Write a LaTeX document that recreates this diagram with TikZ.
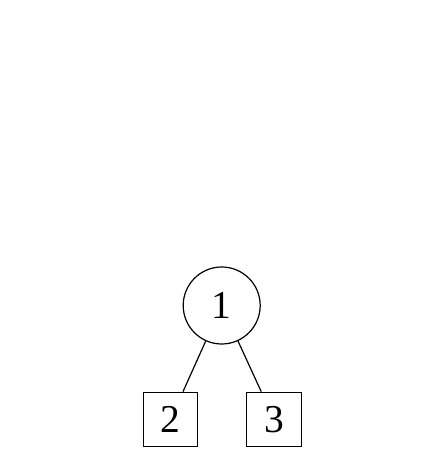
\documentclass[tikz,border=0pt]{standalone}
\usepackage{fontspec}
\setmainfont{Liberation Serif}
\tikzset{
  vertex/.style={draw,circle,minimum size=77pt,inner sep=0pt},
  leaf/.style={draw,rectangle,minimum size=54.5pt,inner sep=0pt}
}
\begin{document}
\begin{tikzpicture}[x=1pt,y=1pt,line width=1.2pt,font=\fontsize{39.5pt}{46pt}\selectfont]
\useasboundingbox (0,0) rectangle (444,453);

\node[vertex] (n1) at (221.7,147.5) {1};
\node[leaf] (n2) at (170.5,33.5) {2};
\node[leaf] (n3) at (274,33.5) {3};

\draw (n1) -- (n2);
\draw (n1) -- (n3);
\end{tikzpicture}
\end{document}
